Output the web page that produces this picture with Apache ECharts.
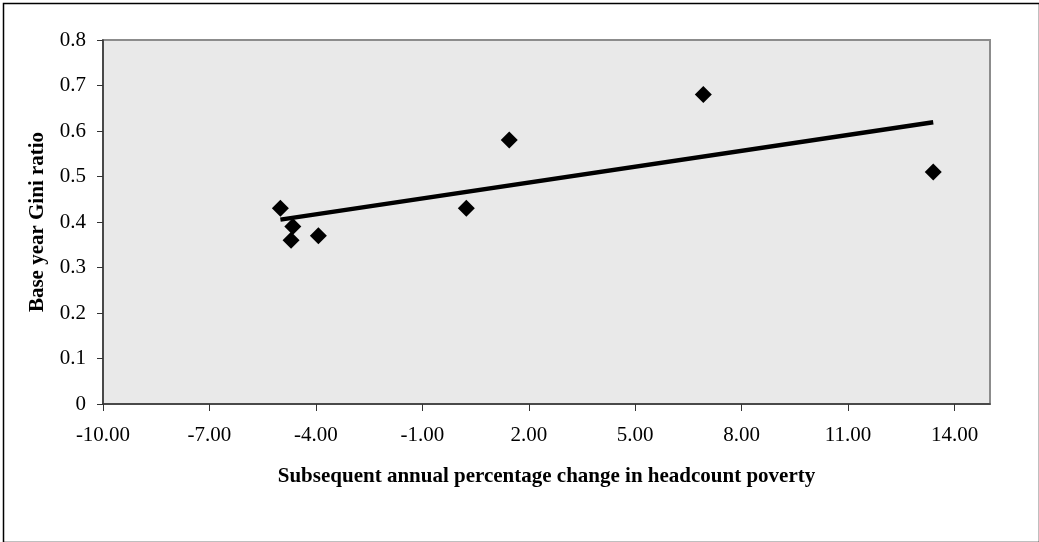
<!DOCTYPE html>
<html>
<head>
<meta charset="utf-8">
<script src="https://cdn.jsdelivr.net/npm/echarts@6/dist/echarts.min.js"></script>
<style>
html,body{margin:0;padding:0;background:#fff;}
#chart{width:1039px;height:542px;}
</style>
</head>
<body>
<div id="chart"></div>
<script>
// Data
var changeInPoverty = [-5.0, -4.65, -4.70, -3.93, 0.24, 1.45, 6.92, 13.40];
var giniRatio       = [0.43, 0.39, 0.36, 0.37, 0.43, 0.58, 0.68, 0.51];
var xAxisTitle = 'Subsequent annual percentage change in headcount poverty';
var yAxisTitle = 'Base year Gini ratio';

var points = changeInPoverty.map(function (x, i) { return [x, giniRatio[i]]; });

// linear least-squares trend line over the data range
var n = changeInPoverty.length, mx = 0, my = 0;
for (var i = 0; i < n; i++) { mx += changeInPoverty[i]; my += giniRatio[i]; }
mx /= n; my /= n;
var sxy = 0, sxx = 0;
for (var i = 0; i < n; i++) {
  sxy += (changeInPoverty[i] - mx) * (giniRatio[i] - my);
  sxx += (changeInPoverty[i] - mx) * (changeInPoverty[i] - mx);
}
var slope = sxy / sxx, intercept = my - slope * mx;
var xMin = Math.min.apply(null, changeInPoverty), xMax = Math.max.apply(null, changeInPoverty);
var trend = [[xMin, intercept + slope * xMin], [xMax, intercept + slope * xMax]];

var font = 'Liberation Serif';
var chart = echarts.init(document.getElementById('chart'));
chart.setOption({
  animation: false,
  backgroundColor: '#fff',
  graphic: [{
    type: 'rect', left: 1, top: 1,
    shape: { x: 0, y: 0, width: 1036, height: 539 },
    style: { fill: 'none', stroke: '#000', lineWidth: 1.5 },
    silent: true
  }],
  grid: {
    left: 103, top: 40, right: 49, bottom: 138,
    show: true, backgroundColor: '#e9e9e9', borderColor: '#8c8c8c', borderWidth: 2
  },
  xAxis: {
    type: 'value', min: -10, max: 15, interval: 3,
    name: xAxisTitle, nameLocation: 'middle', nameGap: 62,
    nameTextStyle: { fontFamily: font, fontWeight: 'bold', fontSize: 21, color: '#000' },
    axisLine: { show: true, onZero: false, lineStyle: { color: '#333', width: 1.5 } },
    axisTick: { show: true, inside: false, length: 7, lineStyle: { color: '#333', width: 1 } },
    axisLabel: {
      showMaxLabel: false, margin: 21,
      fontFamily: font, fontSize: 21, color: '#000',
      formatter: function (v) { return v.toFixed(2); }
    },
    splitLine: { show: false }
  },
  yAxis: {
    type: 'value', min: 0, max: 0.8, interval: 0.1,
    name: yAxisTitle, nameLocation: 'middle', nameGap: 55, nameRotate: 90,
    nameTextStyle: { fontFamily: font, fontWeight: 'bold', fontSize: 21, color: '#000' },
    axisLine: { show: true, onZero: false, lineStyle: { color: '#333', width: 1.5 } },
    axisTick: { show: true, inside: false, length: 6, lineStyle: { color: '#333', width: 1 } },
    axisLabel: {
      margin: 17, fontFamily: font, fontSize: 21, color: '#000',
      formatter: function (v) { return String(Math.round(v * 10) / 10); }
    },
    splitLine: { show: false }
  },
  series: [
    {
      type: 'line', data: trend, showSymbol: false, symbol: 'none',
      lineStyle: { color: '#000', width: 4.5 }, z: 3
    },
    {
      type: 'scatter', data: points, symbol: 'diamond', symbolSize: 17,
      itemStyle: { color: '#000', opacity: 1 }, z: 4
    }
  ]
});
</script>
</body>
</html>
